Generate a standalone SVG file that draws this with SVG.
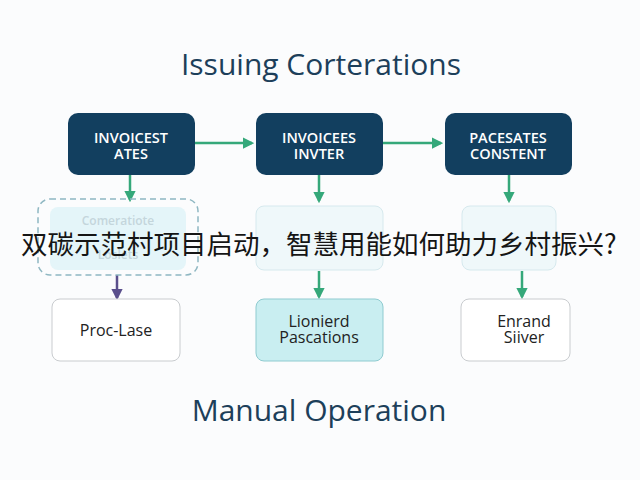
<svg xmlns="http://www.w3.org/2000/svg" width="640" height="480" viewBox="0 0 640 480">
<defs>
<marker id="ag" viewBox="0 0 10 10" refX="8" refY="5" markerWidth="4.5" markerHeight="4.5" orient="auto"><path d="M0,0 L10,5 L0,10 z" fill="#35a87a"/></marker>
<marker id="ap" viewBox="0 0 10 10" refX="8" refY="5" markerWidth="4.5" markerHeight="4.5" orient="auto"><path d="M0,0 L10,5 L0,10 z" fill="#5a4f8c"/></marker>
<style>
.title{font-family:"Open Sans","Noto Sans",sans-serif;fill:#1d3f5a;text-anchor:middle}
.dark{fill:#123f5f}
.wt{font-family:"Open Sans","Noto Sans",sans-serif;font-weight:600;font-size:14.5px;fill:#ffffff;text-anchor:middle}
.bt{font-family:"Open Sans","Noto Sans",sans-serif;font-size:16px;fill:#222;text-anchor:middle}
.ft{font-family:"Open Sans","Noto Sans",sans-serif;font-weight:600;font-size:12px;fill:#c4d6dc;text-anchor:middle}
.g{stroke:#35a87a;stroke-width:2.5;fill:none;marker-end:url(#ag)}
.p{stroke:#5a4f8c;stroke-width:2.5;fill:none;marker-end:url(#ap)}
.cjk{font-family:"Noto Sans CJK SC",sans-serif;font-size:26.5px;fill:#151515}
</style>
</defs>
<rect width="640" height="480" fill="#fbfcfd"/>
<text class="title" x="321" y="75" font-size="30">Issuing Corterations</text>
<g id="connectors">
<line class="g" x1="195" y1="143" x2="252" y2="143"/>
<line class="g" x1="383" y1="143" x2="441" y2="143"/>
<line class="g" x1="130" y1="175" x2="130" y2="200"/>
<line class="g" x1="319" y1="175" x2="319" y2="201"/>
<line class="g" x1="509" y1="175" x2="509" y2="201"/>
<line class="p" x1="117" y1="275" x2="117" y2="298"/>
<line class="g" x1="319" y1="271" x2="319" y2="297"/>
<line class="g" x1="522" y1="271" x2="522" y2="297"/>
</g>
<g id="n1"><rect class="dark" x="68" y="113" width="127" height="62" rx="10"/><text class="wt" x="131" y="143">INVOICEST</text><text class="wt" x="131" y="159">ATES</text></g>
<g id="n2"><rect class="dark" x="256" y="113" width="127" height="62" rx="10"/><text class="wt" x="319" y="143">INVOICEES</text><text class="wt" x="319" y="159">INVTER</text></g>
<g id="n3"><rect class="dark" x="445" y="113" width="127" height="62" rx="10"/><text class="wt" x="508" y="143">PACESATES</text><text class="wt" x="508" y="159">CONSTENT</text></g>
<g id="m1"><rect x="38" y="199" width="160" height="76" rx="12" fill="none" stroke="#8fb7c2" stroke-width="1.5" stroke-dasharray="6 4"/><rect x="50" y="207" width="136" height="63" rx="8" fill="#e4f5f9"/><text class="ft" x="118" y="225">Comeratiote</text><text class="ft" x="118" y="259">Loslets</text></g>
<g id="m2"><rect x="256" y="206" width="127" height="64" rx="8" fill="#eff8fa" stroke="#d6e9ee"/></g>
<g id="m3"><rect x="462" y="206" width="94" height="64" rx="8" fill="#eff8fa" stroke="#d6e9ee"/></g>
<g id="b1"><rect x="52" y="299" width="128" height="62" rx="8" fill="#ffffff" stroke="#c9cccf"/><text class="bt" x="116" y="336" font-size="17">Proc-Lase</text></g>
<g id="b2"><rect x="256" y="299" width="127" height="62" rx="8" fill="#c9eef1" stroke="#8fcbd0"/><text class="bt" x="319" y="327">Lionierd</text><text class="bt" x="319" y="343">Pascations</text></g>
<g id="b3"><rect x="461" y="299" width="109" height="62" rx="8" fill="#ffffff" stroke="#c9cccf"/><text class="bt" x="524" y="327">Enrand</text><text class="bt" x="524" y="343">Siiver</text></g>
<text class="title" x="319" y="421" font-size="30">Manual Operation</text>
<text class="cjk" x="21" y="254">双碳示范村项目启动，智慧用能如何助力乡村振兴?</text>
</svg>
